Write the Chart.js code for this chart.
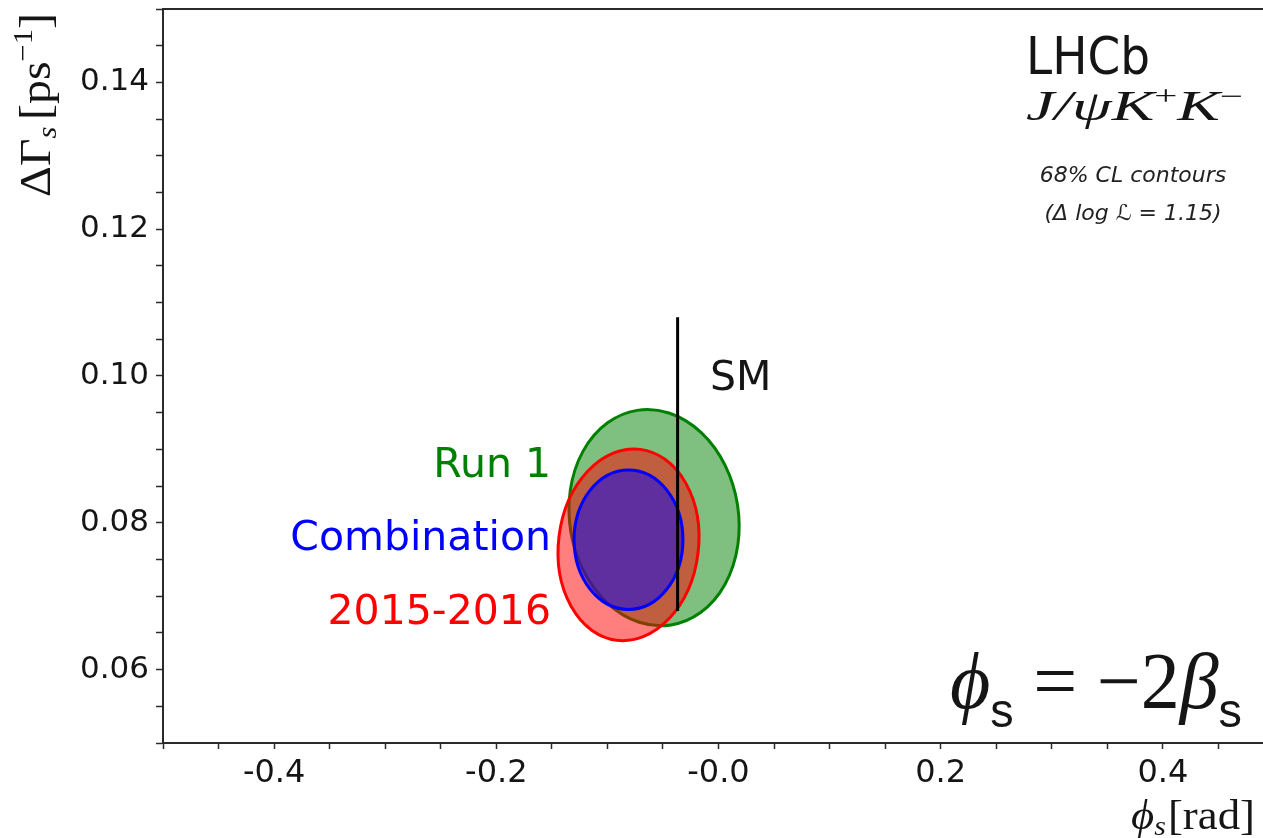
<!DOCTYPE html>
<html>
<head>
<meta charset="utf-8">
<script src="https://cdn.jsdelivr.net/npm/chart.js@4"></script>
<style>
  html, body { margin: 0; padding: 0; background: #fff; overflow: hidden; }
  canvas { display: block; }
</style>
</head>
<body>
<canvas id="chart" width="1280" height="838"></canvas>
<script>
// 68% CL contours in the (phi_s, DeltaGamma_s) plane
const contourNames = ['Run 1', '2015-2016', 'Combination'];
const contourPhi = [-0.058, -0.081, -0.081];
const contourDG = [0.0807, 0.0770, 0.0777];
const contourHalfPhi = [0.076, 0.063, 0.049];
const contourHalfDG = [0.0148, 0.0131, 0.0095];
const contourTilt = [-9, 7, 0];   // degrees
const contourColors = ['#008000', '#ff0000', '#0000ff'];
const contourFills = ['rgba(0,128,0,0.5)', 'rgba(255,0,0,0.5)', 'rgba(0,0,255,0.5)'];

// Standard Model prediction
const smPhi = [-0.0368, -0.0368];
const smDG = [0.068, 0.108];

// axes
const xMin = -0.5, xMax = 0.5, xStep = 0.05;
const yMin = 0.05, yMax = 0.15, yStep = 0.005;
const xLabelValues = [-0.4, -0.2, 0, 0.2, 0.4];
const xLabelText = ['-0.4', '-0.2', '-0.0', '0.2', '0.4'];
const yLabelValues = [0.06, 0.08, 0.10, 0.12, 0.14];
const yLabelText = ['0.06', '0.08', '0.10', '0.12', '0.14'];

const INK = '#151515';
const SPINE = '#2a2a2a';
const SANS = '"DejaVu Sans", sans-serif';
const SERIF = '"Liberation Serif", "DejaVu Serif", serif';

const makeTicks = (min, max, step) => {
    const n = Math.round((max - min) / step);
    return Array.from({length: n + 1}, (_, i) => ({value: +(min + i * step).toFixed(4)}));
};

const lookupLabel = (values, texts, v) => {
    const i = values.findIndex(lv => Math.abs(lv - v) < 1e-6);
    return i < 0 ? '' : texts[i];
};

// draws a row of text pieces, optionally squeezed/stretched to a target width
const drawRuns = (ctx, x, y, parts, width) => {
    let total = 0;
    parts.forEach(p => {
        ctx.font = p.font;
        p.w = ctx.measureText(p.t).width;
        total += p.w + (p.gap || 0);
    });
    const sx = width ? width / total : 1;
    ctx.save();
    ctx.translate(x, y);
    ctx.scale(sx, 1);
    let cx = 0;
    parts.forEach(p => {
        ctx.font = p.font;
        ctx.fillStyle = p.color || INK;
        ctx.fillText(p.t, cx, p.dy || 0);
        cx += p.w + (p.gap || 0);
    });
    ctx.restore();
};

const contourPlugin = {
    id: 'contours',
    beforeDatasetsDraw(chart) {
        const ctx = chart.ctx;
        const xs = chart.scales.x, ys = chart.scales.y;
        const area = chart.chartArea;
        ctx.save();
        ctx.beginPath();
        ctx.rect(area.left, area.top, area.right - area.left, area.bottom - area.top);
        ctx.clip();
        for (let i = 0; i < contourNames.length; i++) {
            const cx = xs.getPixelForValue(contourPhi[i]);
            const cy = ys.getPixelForValue(contourDG[i]);
            const rx = xs.getPixelForValue(contourPhi[i] + contourHalfPhi[i]) - cx;
            const ry = cy - ys.getPixelForValue(contourDG[i] + contourHalfDG[i]);
            ctx.beginPath();
            ctx.ellipse(cx, cy, rx, ry, contourTilt[i] * Math.PI / 180, 0, 2 * Math.PI);
            ctx.fillStyle = contourFills[i];
            ctx.fill();
            ctx.lineWidth = 3;
            ctx.strokeStyle = contourColors[i];
            ctx.stroke();
        }
        ctx.restore();
    }
};

const textPlugin = {
    id: 'annotations',
    afterDraw(chart) {
        const ctx = chart.ctx;
        const area = chart.chartArea;
        ctx.save();
        ctx.textBaseline = 'alphabetic';

        // top spine
        ctx.strokeStyle = SPINE;
        ctx.lineWidth = 2;
        ctx.beginPath();
        ctx.moveTo(area.left - 1, area.top);
        ctx.lineTo(area.right, area.top);
        ctx.stroke();

        // contour labels
        ctx.textAlign = 'right';
        ctx.font = '41px ' + SANS;
        const labelY = [477, 624, 550];
        contourNames.forEach((name, i) => {
            ctx.fillStyle = contourColors[i];
            ctx.fillText(name, 551, labelY[i]);
        });
        ctx.textAlign = 'left';
        ctx.fillStyle = INK;
        ctx.fillText('SM', 710, 390);

        // experiment block
        ctx.font = '52px ' + SANS;
        ctx.fillText('LHCb', 1026, 74, 124);
        drawRuns(ctx, 1026, 120, [
            {t: 'J/ψK', font: 'italic 42px ' + SERIF},
            {t: '+', font: '27px ' + SERIF, dy: -15},
            {t: 'K', font: 'italic 42px ' + SERIF},
            {t: '−', font: '27px ' + SERIF, dy: -15}
        ], 217);
        ctx.textAlign = 'center';
        ctx.font = 'italic 22px ' + SANS;
        ctx.fillStyle = '#222';
        ctx.fillText('68% CL contours', 1133, 182);
        ctx.fillText('(Δ log ℒ = 1.15)', 1133, 220);
        ctx.textAlign = 'left';

        // phi_s = -2 beta_s
        drawRuns(ctx, 950, 708, [
            {t: 'ϕ', font: 'italic 80px ' + SERIF},
            {t: 's', font: '48px "Liberation Sans", sans-serif', dy: 19},
            {t: ' = ', font: '80px ' + SERIF},
            {t: '−2', font: '80px ' + SERIF},
            {t: 'β', font: 'italic 80px ' + SERIF},
            {t: 's', font: '48px "Liberation Sans", sans-serif', dy: 19}
        ], 292);

        // x axis title
        drawRuns(ctx, 1131, 829, [
            {t: 'ϕ', font: 'italic 42px ' + SERIF},
            {t: 's', font: 'italic 28px ' + SERIF, dy: 6, gap: 2},
            {t: '[rad]', font: '42px ' + SERIF}
        ], 124);

        // y axis title (rotated)
        ctx.save();
        ctx.translate(50, 197);
        ctx.rotate(-Math.PI / 2);
        drawRuns(ctx, 0, 0, [
            {t: 'ΔΓ', font: '44px ' + SERIF},
            {t: 's', font: 'italic 28px ' + SERIF, dy: 6, gap: 6},
            {t: '[ps', font: '44px ' + SERIF},
            {t: '−1', font: '28px ' + SERIF, dy: -18},
            {t: ']', font: '44px ' + SERIF}
        ], 184);
        ctx.restore();

        ctx.restore();
    }
};

const ctx = document.getElementById('chart').getContext('2d');

const config = {
    type: 'scatter',
    data: {
        datasets: [{
            label: 'SM',
            data: smPhi.map((p, i) => ({x: p, y: smDG[i]})),
            showLine: true,
            borderColor: '#000',
            borderWidth: 3,
            pointRadius: 0,
            fill: false
        }]
    },
    options: {
        responsive: false,
        animation: false,
        devicePixelRatio: 1,
        layout: {padding: {top: 9, right: 6, left: 0, bottom: 0}},
        plugins: {
            legend: {display: false},
            tooltip: {enabled: false}
        },
        scales: {
            x: {
                type: 'linear',
                min: xMin,
                max: xMax,
                afterBuildTicks: axis => { axis.ticks = makeTicks(xMin, xMax, xStep); },
                afterFit: axis => { axis.height = 95; axis.paddingLeft = 0; axis.paddingRight = 0; },
                ticks: {
                    autoSkip: false,
                    maxRotation: 0,
                    padding: 5,
                    color: INK,
                    font: {family: 'DejaVu Sans', size: 32},
                    callback: v => lookupLabel(xLabelValues, xLabelText, v)
                },
                grid: {drawOnChartArea: false, drawTicks: true, tickLength: 6, tickColor: SPINE, tickWidth: 1.5},
                border: {display: true, color: SPINE, width: 2}
            },
            y: {
                type: 'linear',
                min: yMin,
                max: yMax,
                afterBuildTicks: axis => { axis.ticks = makeTicks(yMin, yMax, yStep); },
                afterFit: axis => { axis.width = 163; axis.paddingTop = 0; axis.paddingBottom = 0; },
                ticks: {
                    autoSkip: false,
                    padding: 7,
                    color: INK,
                    font: {family: 'DejaVu Sans', size: 31},
                    callback: v => lookupLabel(yLabelValues, yLabelText, v)
                },
                grid: {drawOnChartArea: false, drawTicks: true, tickLength: 7, tickColor: SPINE, tickWidth: 1.5},
                border: {display: true, color: SPINE, width: 2}
            }
        }
    },
    plugins: [contourPlugin, textPlugin]
};

const lhcbChart = new Chart(ctx, config);
</script>
</body>
</html>
